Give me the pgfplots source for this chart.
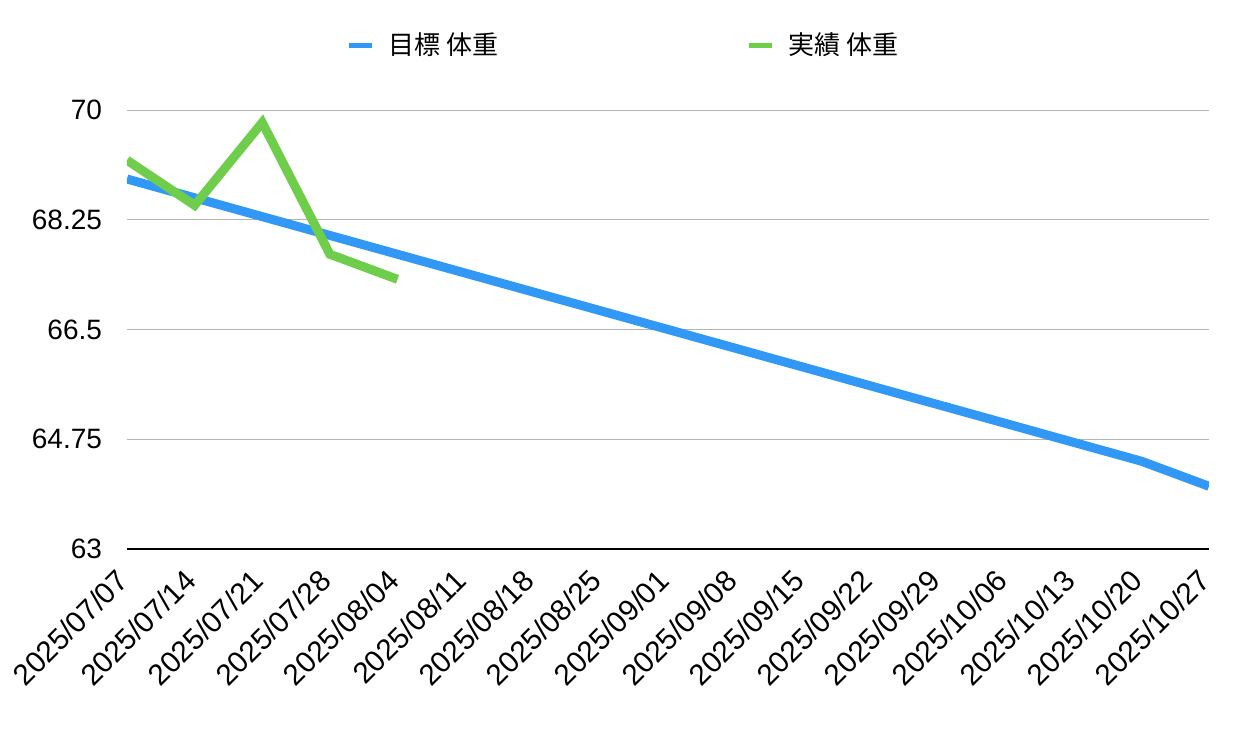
\documentclass[border=0pt]{standalone}
\usepackage{fontspec}
\setmainfont{Liberation Sans}
\newfontfamily\jp{Noto Sans CJK JP}
\usepackage{pgfplots}
\pgfplotsset{compat=1.18}

\definecolor{goalblue}{RGB}{50,152,245}
\definecolor{realgreen}{RGB}{110,205,75}
\definecolor{gridgray}{RGB}{180,180,180}

\begin{document}
\begin{tikzpicture}
\begin{axis}[
  scale only axis,
  width=541bp, height=219.5bp,
  xmin=0, xmax=16,
  ymin=63, ymax=70,
  axis x line*=bottom,
  axis y line*=left,
  y axis line style={draw=none},
  x axis line style={line width=1bp, black},
  major tick length=0pt,
  xtick={0,...,16},
  xticklabels={2025/07/07,2025/07/14,2025/07/21,2025/07/28,2025/08/04,2025/08/11,2025/08/18,2025/08/25,2025/09/01,2025/09/08,2025/09/15,2025/09/22,2025/09/29,2025/10/06,2025/10/13,2025/10/20,2025/10/27},
  xticklabel style={xshift=-6bp, yshift=-9bp, rotate=45, anchor=north east, inner sep=0pt,
    font=\fontsize{14.8bp}{17bp}\selectfont},
  ytick={63,64.75,66.5,68.25,70},
  yticklabels={63,64.75,66.5,68.25,70},
  yticklabel style={font=\fontsize{14bp}{17bp}\selectfont, xshift=-9bp},
  ymajorgrids,
  grid style={gridgray, line width=0.5bp},
  legend columns=2,
  legend style={at={(0.46,1.148)}, anchor=center, draw=none, fill=none,
    font=\jp\fontsize{13bp}{15bp}\selectfont,
    /tikz/every odd column/.append style={column sep=5bp},
    /tikz/every even column/.append style={column sep=122bp},
    inner xsep=0pt},
  legend image code/.code={\draw[#1, line width=2.5bp] (0bp,0bp) -- (11.5bp,0bp);},
]
\addplot[goalblue, line width=4.5bp] coordinates {
  (0,68.9) (1,68.6) (2,68.3) (3,68.0) (4,67.7) (5,67.4) (6,67.1) (7,66.8)
  (8,66.5) (9,66.2) (10,65.9) (11,65.6) (12,65.3) (13,65.0) (14,64.7)
  (15,64.4) (16,64.0)
};
\addlegendentry{目標 体重}
\addplot[realgreen, line width=4.5bp] coordinates {
  (0,69.2) (1,68.48) (2,69.8) (3,67.7) (4,67.3)
};
\addlegendentry{実績 体重}
\end{axis}
\path (current axis.south west) ++(-63.5bp,-99.5bp) rectangle ++(619bp,374bp);
\end{tikzpicture}
\end{document}
